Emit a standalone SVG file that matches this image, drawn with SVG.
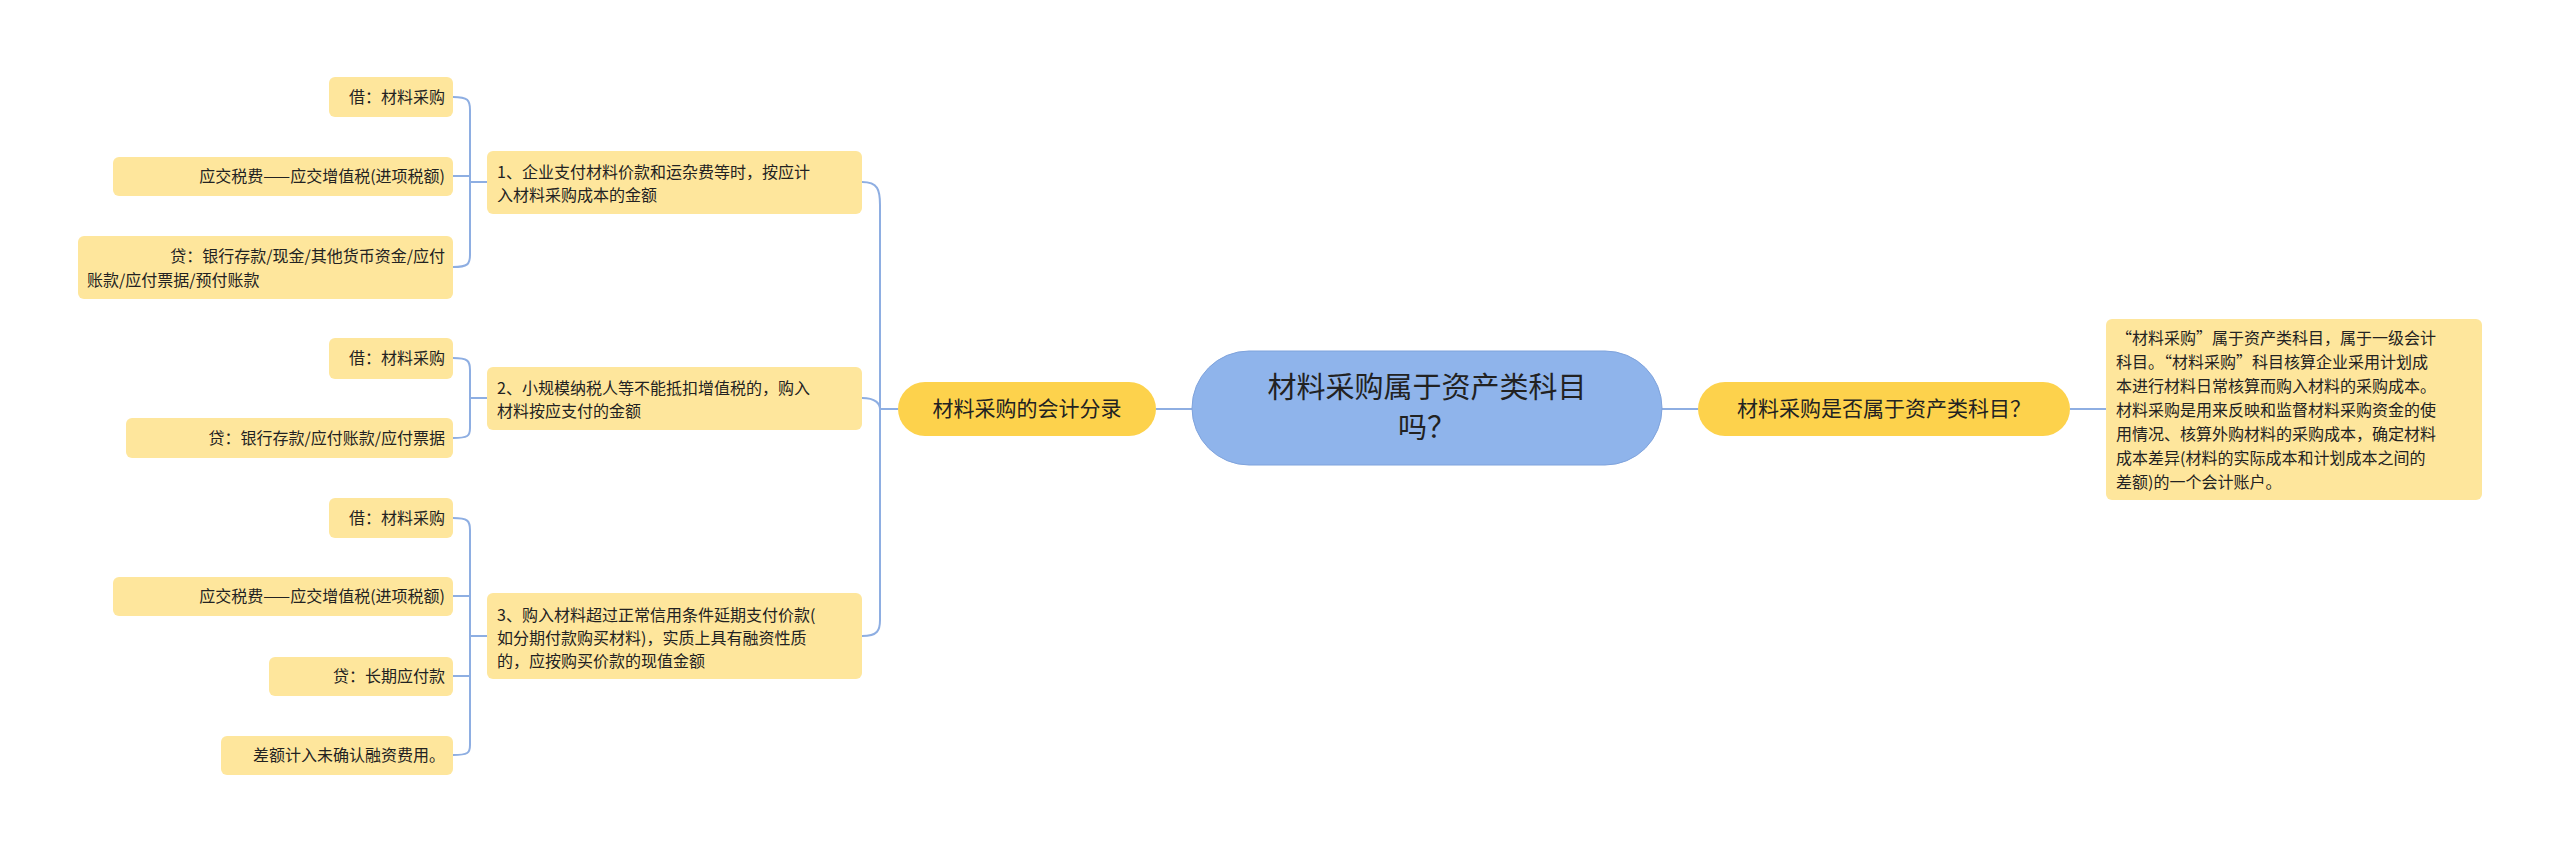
<svg xmlns="http://www.w3.org/2000/svg" width="2560" height="853" viewBox="0 0 2560 853">
<style>
text{font-family:"Noto Sans CJK SC","Liberation Sans",sans-serif;fill:#222}
.leaf{fill:#fee69c}
.br{fill:#fdd24c}
.t{font-size:16px}
.c{fill:none;stroke:#8eaee2;stroke-width:2}
</style>
<rect width="2560" height="853" fill="#fff"/>
<g id="connectors">
<path class="c" d="M1156,409H1192M1662,409H1698M2070,409H2106"/>
<path class="c" d="M862,182C878,182 880,190 880,205V620C880,630 878,636 862,636M862,398C876,398 880,404 880,409H898"/>
<path class="c" d="M453,97C468,97 470,100 470,110V255C470,264 468,267 453,267M453,176H470M470,182H487"/>
<path class="c" d="M453,358C468,358 470,361 470,370V428C470,436 468,438 453,438M470,398H487"/>
<path class="c" d="M453,518C468,518 470,521 470,530V745C470,753 468,755 453,755M453,596H470M453,676H470M470,636H487"/>
</g>
<g id="center"><rect x="1192" y="351" width="470" height="114" rx="57" fill="#8fb4eb" stroke="#7fa3dc"/>
<text x="1427" y="398" font-size="29" text-anchor="middle">材料采购属于资产类科目</text>
<text x="1427" y="438" font-size="29" text-anchor="middle">吗？</text></g>
<g id="b-right"><rect class="br" x="1698" y="382" width="372" height="54" rx="27"/>
<text x="1884" y="416" font-size="21" text-anchor="middle">材料采购是否属于资产类科目？</text></g>
<g id="r-leaf"><rect class="leaf" x="2106" y="319" width="376" height="181" rx="6"/>
<text class="t" x="2116" font-size="16.5"><tspan x="2116" y="344">“材料采购”属于资产类科目，属于一级会计</tspan><tspan x="2116" y="368">科目。“材料采购”科目核算企业采用计划成</tspan><tspan x="2116" y="392">本进行材料日常核算而购入材料的采购成本。</tspan><tspan x="2116" y="416">材料采购是用来反映和监督材料采购资金的使</tspan><tspan x="2116" y="440">用情况、核算外购材料的采购成本，确定材料</tspan><tspan x="2116" y="464">成本差异(材料的实际成本和计划成本之间的</tspan><tspan x="2116" y="488">差额)的一个会计账户。</tspan></text></g>
<g id="b-left"><rect class="br" x="898" y="382" width="258" height="54" rx="27"/>
<text x="1027" y="416" font-size="21" text-anchor="middle">材料采购的会计分录</text></g>
<g id="m1"><rect class="leaf" x="487" y="151" width="375" height="63" rx="6"/>
<text class="t"><tspan x="497" y="178">1、企业支付材料价款和运杂费等时，按应计</tspan><tspan x="497" y="201">入材料采购成本的金额</tspan></text></g>
<g id="m2"><rect class="leaf" x="487" y="367" width="375" height="63" rx="6"/>
<text class="t"><tspan x="497" y="394">2、小规模纳税人等不能抵扣增值税的，购入</tspan><tspan x="497" y="417">材料按应支付的金额</tspan></text></g>
<g id="m3"><rect class="leaf" x="487" y="593" width="375" height="86" rx="6"/>
<text class="t"><tspan x="497" y="621">3、购入材料超过正常信用条件延期支付价款(</tspan><tspan x="497" y="644">如分期付款购买材料)，实质上具有融资性质</tspan><tspan x="497" y="667">的，应按购买价款的现值金额</tspan></text></g>
<g id="l1a"><rect class="leaf" x="329" y="77" width="124" height="40" rx="6"/><text class="t" x="445" y="103" text-anchor="end">借：材料采购</text></g>
<g id="l1b"><rect class="leaf" x="113" y="157" width="340" height="39" rx="6"/><text class="t" x="445" y="182" text-anchor="end">应交税费——应交增值税(进项税额)</text></g>
<g id="l1c"><rect class="leaf" x="78" y="236" width="375" height="63" rx="6"/><text class="t"><tspan x="445" y="262" text-anchor="end">贷：银行存款/现金/其他货币资金/应付</tspan><tspan x="87" y="286">账款/应付票据/预付账款</tspan></text></g>
<g id="l2a"><rect class="leaf" x="329" y="338" width="124" height="41" rx="6"/><text class="t" x="445" y="364" text-anchor="end">借：材料采购</text></g>
<g id="l2b"><rect class="leaf" x="126" y="418" width="327" height="40" rx="6"/><text class="t" x="445" y="444" text-anchor="end">贷：银行存款/应付账款/应付票据</text></g>
<g id="l3a"><rect class="leaf" x="329" y="498" width="124" height="40" rx="6"/><text class="t" x="445" y="524" text-anchor="end">借：材料采购</text></g>
<g id="l3b"><rect class="leaf" x="113" y="577" width="340" height="39" rx="6"/><text class="t" x="445" y="602" text-anchor="end">应交税费——应交增值税(进项税额)</text></g>
<g id="l3c"><rect class="leaf" x="269" y="657" width="184" height="39" rx="6"/><text class="t" x="445" y="682" text-anchor="end">贷：长期应付款</text></g>
<g id="l3d"><rect class="leaf" x="221" y="736" width="232" height="39" rx="6"/><text class="t" x="445" y="761" text-anchor="end">差额计入未确认融资费用。</text></g>
</svg>
